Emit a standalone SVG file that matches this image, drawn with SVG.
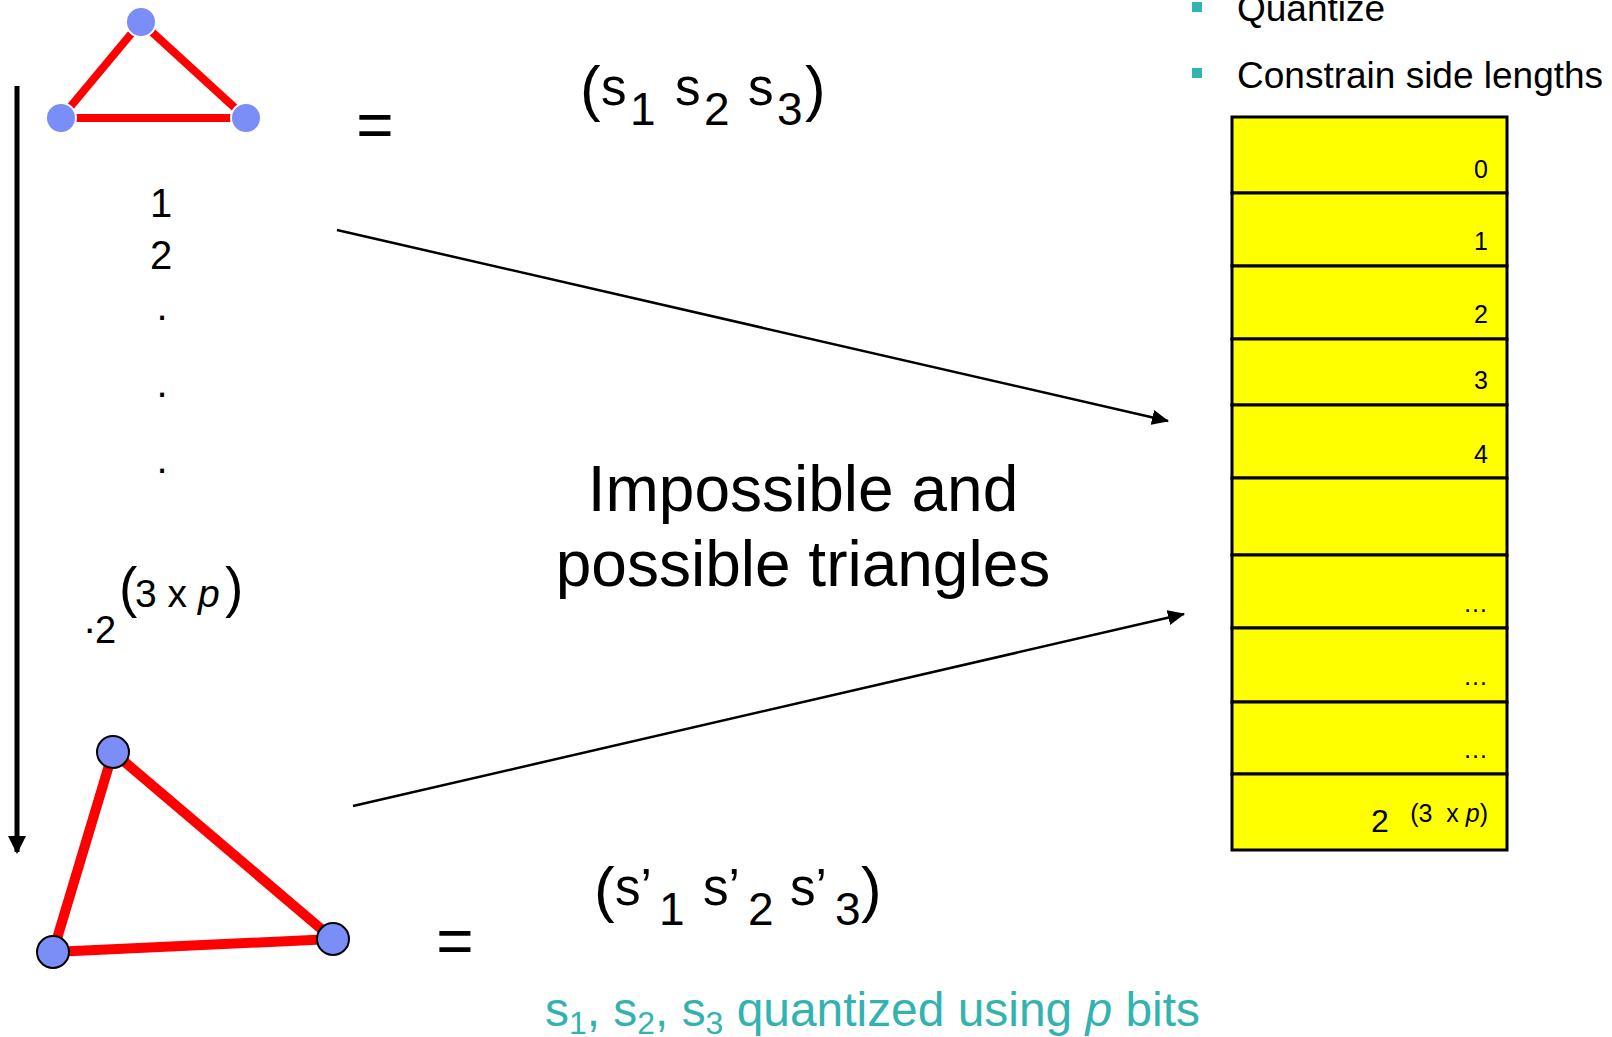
<svg xmlns="http://www.w3.org/2000/svg" width="1612" height="1037" viewBox="0 0 1612 1037">
<style>
text{font-family:"Liberation Sans",Arial,sans-serif;fill:#000}
.edge{stroke:#FF0000;stroke-linecap:butt}
.vtx{fill:#7B8DF7}
.cell{fill:#FFFF00;stroke:#000;stroke-width:3}
.num{font-size:25px;text-anchor:end}
.s{font-size:51px}
.d{font-size:46px}
.par{font-size:62px}
.teal{fill:#33B3AF}
.conn{stroke:#000;stroke-width:2.5;fill:none}
.vconn{stroke:#000;stroke-width:5;fill:none}
</style>
<defs>
<marker id="ah" markerUnits="userSpaceOnUse" markerWidth="17" markerHeight="15" refX="16" refY="7.5" orient="auto">
<path d="M0,0 L17,7.5 L0,15 z" fill="#000"/>
</marker>
<marker id="ahv" markerUnits="userSpaceOnUse" markerWidth="18" markerHeight="18" refX="16" refY="9" orient="auto">
<path d="M0,0 L18,9 L0,18 z" fill="#000"/>
</marker>
</defs>
<rect width="1612" height="1037" fill="#fff"/>

<g id="connectors">
<line class="vconn" x1="17" y1="86" x2="17" y2="852" marker-end="url(#ahv)"/>
<line class="conn" x1="337" y1="230" x2="1168" y2="421" marker-end="url(#ah)"/>
<line class="conn" x1="353" y1="806" x2="1184" y2="614" marker-end="url(#ah)"/>
</g>

<g id="triangle-top">
<line class="edge" x1="141" y1="22" x2="61" y2="118" stroke-width="8"/>
<line class="edge" x1="141" y1="22" x2="246" y2="118" stroke-width="8"/>
<line class="edge" x1="61" y1="118" x2="246" y2="118" stroke-width="8"/>
<circle class="vtx" cx="141" cy="22" r="15" stroke="#fff" stroke-width="2"/>
<circle class="vtx" cx="61" cy="118" r="15" stroke="#fff" stroke-width="2"/>
<circle class="vtx" cx="246" cy="118" r="15" stroke="#fff" stroke-width="2"/>
</g>

<g id="triangle-bottom">
<line class="edge" x1="113" y1="752" x2="53" y2="952" stroke-width="10"/>
<line class="edge" x1="113" y1="752" x2="333" y2="939" stroke-width="10"/>
<line class="edge" x1="53" y1="952" x2="333" y2="939" stroke-width="10"/>
<circle class="vtx" cx="113" cy="752" r="16" stroke="#000" stroke-width="2"/>
<circle class="vtx" cx="53" cy="952" r="16" stroke="#000" stroke-width="2"/>
<circle class="vtx" cx="333" cy="939" r="16" stroke="#000" stroke-width="2"/>
</g>

<g id="equals">
<text x="375" y="147" font-size="64" text-anchor="middle">=</text>
<text x="455" y="963" font-size="64" text-anchor="middle">=</text>
</g>

<g id="tuple-top">
<text class="par" x="580" y="109">(</text>
<text class="s" x="601" y="105">s</text>
<text class="d" x="630" y="125">1</text>
<text class="s" x="675" y="105">s</text>
<text class="d" x="704" y="125">2</text>
<text class="s" x="748" y="105">s</text>
<text class="d" x="777" y="125">3</text>
<text class="par" x="805" y="109">)</text>
</g>

<g id="tuple-bottom">
<text class="par" x="594" y="910" font-size="64">(</text>
<text class="s" x="615" y="905">s’</text>
<text class="d" x="659" y="925">1</text>
<text class="s" x="703" y="905">s’</text>
<text class="d" x="748" y="925">2</text>
<text class="s" x="790" y="905">s’</text>
<text class="d" x="835" y="925">3</text>
<text class="par" x="861" y="910" font-size="64">)</text>
</g>

<g id="index-column">
<text x="161" y="217" font-size="40" text-anchor="middle">1</text>
<text x="161" y="269" font-size="40" text-anchor="middle">2</text>
<text x="162" y="320" font-size="40" text-anchor="middle">.</text>
<text x="162" y="397" font-size="40" text-anchor="middle">.</text>
<text x="162" y="473" font-size="40" text-anchor="middle">.</text>
<text x="83" y="642" font-size="40">·</text>
<text x="95" y="643" font-size="38">2</text>
<text x="119" y="606" font-size="55">(</text>
<text x="135" y="607" font-size="39">3 x <tspan font-style="italic">p</tspan></text>
<text x="225" y="606" font-size="55">)</text>
</g>

<g id="center-label">
<text x="803" y="511" font-size="64" text-anchor="middle">Impossible and</text>
<text x="803" y="586" font-size="64" text-anchor="middle">possible triangles</text>
</g>

<g id="bullets">
<rect x="1192" y="2" width="10" height="10" fill="#33B3AF"/>
<text x="1237" y="21" font-size="37">Quantize</text>
<rect x="1192" y="68" width="10" height="10" fill="#33B3AF"/>
<text x="1237" y="88" font-size="37">Constrain side lengths</text>
</g>

<g id="table">
<rect class="cell" x="1232" y="117" width="275" height="76"/>
<rect class="cell" x="1232" y="193" width="275" height="73"/>
<rect class="cell" x="1232" y="266" width="275" height="73"/>
<rect class="cell" x="1232" y="339" width="275" height="66"/>
<rect class="cell" x="1232" y="405" width="275" height="73"/>
<rect class="cell" x="1232" y="478" width="275" height="77"/>
<rect class="cell" x="1232" y="555" width="275" height="73"/>
<rect class="cell" x="1232" y="628" width="275" height="74"/>
<rect class="cell" x="1232" y="702" width="275" height="72"/>
<rect class="cell" x="1232" y="774" width="275" height="76"/>
<text class="num" x="1488" y="178">0</text>
<text class="num" x="1488" y="250">1</text>
<text class="num" x="1488" y="323">2</text>
<text class="num" x="1488" y="389">3</text>
<text class="num" x="1488" y="463">4</text>
<text class="num" x="1488" y="612">…</text>
<text class="num" x="1488" y="685">…</text>
<text class="num" x="1488" y="758">…</text>
<text x="1371" y="832" font-size="32">2</text>
<text class="num" x="1488" y="822" font-size="29" xml:space="preserve" style="white-space:pre">(3  x <tspan font-style="italic">p</tspan>)</text>
</g>

<g id="footnote">
<text class="teal" x="545" y="1026" font-size="48" textLength="655" lengthAdjust="spacingAndGlyphs">s<tspan font-size="32" dy="8">1</tspan><tspan dy="-8">, s</tspan><tspan font-size="32" dy="8">2</tspan><tspan dy="-8">, s</tspan><tspan font-size="32" dy="8">3</tspan><tspan dy="-8"> quantized using </tspan><tspan font-style="italic">p</tspan> bits</text>
</g>
</svg>
